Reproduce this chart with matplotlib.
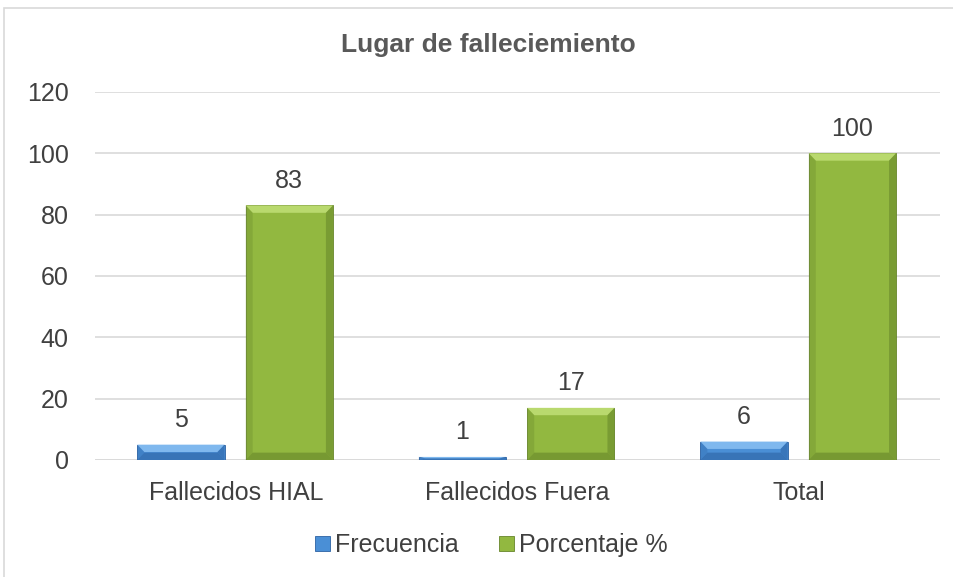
import numpy as np
import matplotlib.pyplot as plt
from matplotlib.patches import Rectangle, Polygon

plt.rcParams['font.family'] = ['Liberation Sans', 'DejaVu Sans']

categories = ['Fallecidos HIAL', 'Fallecidos Fuera', 'Total']
frecuencia = [5, 1, 6]
porcentaje = [83, 17, 100]
y_ticks = [0, 20, 40, 60, 80, 100, 120]

blue = '#4a8fd6'
blue_light = '#7fb8ee'
blue_dark = '#2c62a3'
green = '#92b840'
green_light = '#b9d96e'
green_dark = '#66852a'


def bevel(ax, bars, light, dark):
    # fake the office-style bevel: light top, darker sides and bottom
    for r in bars:
        x0, w, h = r.get_x(), r.get_width(), r.get_height()
        bx = 0.025
        by = min(2.4, h / 2)
        x1 = x0 + w
        ax.add_patch(Polygon([(x0, h), (x1, h), (x1 - bx, h - by), (x0 + bx, h - by)],
                             closed=True, color=light, lw=0, zorder=4))
        ax.add_patch(Polygon([(x0, 0), (x1, 0), (x1 - bx, by), (x0 + bx, by)],
                             closed=True, color=dark, lw=0, zorder=4, alpha=0.6))
        ax.add_patch(Polygon([(x0, 0), (x0 + bx, by), (x0 + bx, h - by), (x0, h)],
                             closed=True, color=dark, lw=0, zorder=4, alpha=0.3))
        ax.add_patch(Polygon([(x1, 0), (x1 - bx, by), (x1 - bx, h - by), (x1, h)],
                             closed=True, color=dark, lw=0, zorder=4, alpha=0.55))


fig = plt.figure(figsize=(9.54, 5.77), dpi=100)
ax = fig.add_axes([0.0996, 0.2028, 0.8854, 0.6378])

# chart border
fig.patches.append(Rectangle((4 / 954, -0.05), 1.1, 1 - 8 / 577 + 0.05,
                             transform=fig.transFigure, fill=False,
                             edgecolor='#d9d9d9', linewidth=1.2))

x = np.arange(len(categories))
w = 0.31
b1 = ax.bar(x - 0.195, frecuencia, w, color=blue, edgecolor=blue_dark,
            linewidth=0.6, label='Frecuencia', zorder=3)
b2 = ax.bar(x + 0.19, porcentaje, w, color=green, edgecolor=green_dark,
            linewidth=0.6, label='Porcentaje %', zorder=3)
bevel(ax, b1, blue_light, blue_dark)
bevel(ax, b2, green_light, green_dark)

for bars, vals in ((b1, frecuencia), (b2, porcentaje)):
    for r, v in zip(bars, vals):
        ax.annotate(str(v), (r.get_x() + r.get_width() / 2, v),
                    xytext=(0, 9), textcoords='offset points', ha='center',
                    va='bottom', fontsize=18, color='#404040')

ax.set_xlim(-0.5, 2.5)
ax.set_ylim(0, 120)
ax.set_yticks(y_ticks)
ax.set_xticks(x)
ax.set_xticklabels(categories)
ax.tick_params(axis='both', length=0, labelsize=18, labelcolor='#404040')
ax.tick_params(axis='y', pad=19)
ax.tick_params(axis='x', pad=15)
ax.grid(axis='y', color='#d9d9d9', linewidth=1.2, zorder=0)
for s in ax.spines.values():
    s.set_visible(False)
ax.axhline(0, color='#d9d9d9', linewidth=1.2, zorder=2)

fig.text(0.512, 0.922, 'Lugar de falleciemiento', ha='center', va='center',
         fontsize=19, fontweight='bold', color='#595959')

fig.legend(handles=[b1, b2], loc='center', bbox_to_anchor=(0.515, 0.055),
           ncol=2, frameon=False, fontsize=18, handlelength=0.6,
           handleheight=0.6, handletextpad=0.2, columnspacing=1.6,
           labelcolor='#404040')

fig.savefig('out.png', dpi=100)
